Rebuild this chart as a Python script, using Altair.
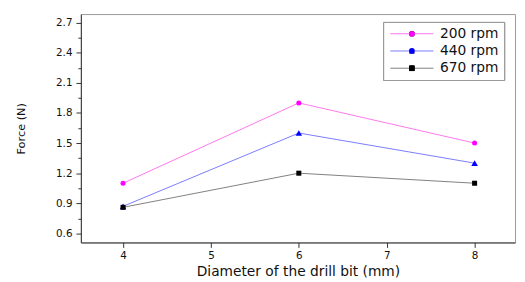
import altair as alt
import pandas as pd

# ---- data ----
diameters = [4, 6, 8]
series = ["200 rpm", "440 rpm", "670 rpm"]
force_200 = [1.10, 1.90, 1.50]
force_440 = [0.87, 1.60, 1.30]
force_670 = [0.86, 1.20, 1.10]

x_tick_values = [4, 4.5, 5, 5.5, 6, 6.5, 7, 7.5, 8]
y_tick_values = [0.6, 0.75, 0.9, 1.05, 1.2, 1.35, 1.5, 1.65, 1.8, 1.95,
                 2.1, 2.25, 2.4, 2.55, 2.7]

line_colors = ["#ff77ee", "#7b7bff", "#808080"]
marker_colors = ["#ff00ff", "#0000ff", "#000000"]
marker_shapes = ["circle", "triangle-up", "square"]

rows = []
for s, vals in zip(series, [force_200, force_440, force_670]):
    for d, v in zip(diameters, vals):
        rows.append({"Diameter": d, "Force": v, "Series": s})
df = pd.DataFrame(rows)

FONT = "DejaVu Sans"

x_enc = alt.X(
    "Diameter:Q",
    scale=alt.Scale(domain=[3.52, 8.46], nice=False, zero=False),
    axis=alt.Axis(
        values=x_tick_values,
        title="Diameter of the drill bit (mm)",
        labelExpr="datum.value % 1 == 0 ? datum.label : ''",
        tickSize={"condition": {"test": "datum.value % 1 != 0", "value": 3}, "value": 5},
        format="d",
        labelPadding=3,
        titlePadding=4,
    ),
)
y_enc = alt.Y(
    "Force:Q",
    scale=alt.Scale(domain=[0.51, 2.785], nice=False, zero=False),
    axis=alt.Axis(
        values=y_tick_values,
        title="Force (N)",
        format=".1f",
        labelExpr="round(datum.value * 100) % 30 == 0 ? datum.label : ''",
        tickSize={"condition": {"test": "round(datum.value * 100) % 30 != 0", "value": 3}, "value": 5},
        labelPadding=4,
        titlePadding=30,
        titleFontSize=11.5,
    ),
)

legend_common = dict(
    title=None,
    orient="none",
    legendX=307,
    legendY=8,
    labelFont=FONT,
    labelFontSize=14,
    labelOffset=21.5,
    padding=5,
    rowPadding=3.5,
    symbolSize=34,
    symbolOffset=17.25,
)

lines = alt.Chart(df).mark_line(strokeWidth=1).encode(
    x=x_enc,
    y=y_enc,
    color=alt.Color(
        "Series:N",
        scale=alt.Scale(domain=series, range=line_colors),
        legend=alt.Legend(
            symbolType="M-7.5,0H7.5",
            symbolStrokeWidth=1,
            labelColor="#111111",
            **legend_common,
        ),
    ),
)

pt_legend = alt.Legend(
    strokeColor="#999999",
    labelOpacity=0,
    **legend_common,
)

points = alt.Chart(df).mark_point(filled=True, opacity=1).encode(
    x=x_enc,
    y=y_enc,
    color=alt.Color("Series:N", scale=alt.Scale(domain=series, range=marker_colors), legend=pt_legend),
    shape=alt.Shape("Series:N", scale=alt.Scale(domain=series, range=marker_shapes), legend=pt_legend),
    size=alt.condition("datum.Series == '440 rpm'", alt.value(44), alt.value(26)),
)

chart = (
    alt.layer(lines, points)
    .resolve_scale(color="independent")
    .properties(
        width=441,
        height=232,
        autosize=alt.AutoSizeParams(type="none"),
        padding={"left": 74, "top": 4, "right": 2, "bottom": 38},
    )
    .configure_view(stroke="#9a9a9a", strokeWidth=1)
    .configure_axis(
        grid=False,
        domainColor="#333333",
        tickColor="#333333",
        labelFont=FONT,
        labelFontSize=10.5,
        labelColor="#111111",
        titleFont=FONT,
        titleFontSize=14,
        titleFontWeight="normal",
        titleColor="#111111",
    )
)

chart.save("out.html", embed_options={"renderer": "svg", "actions": False})
